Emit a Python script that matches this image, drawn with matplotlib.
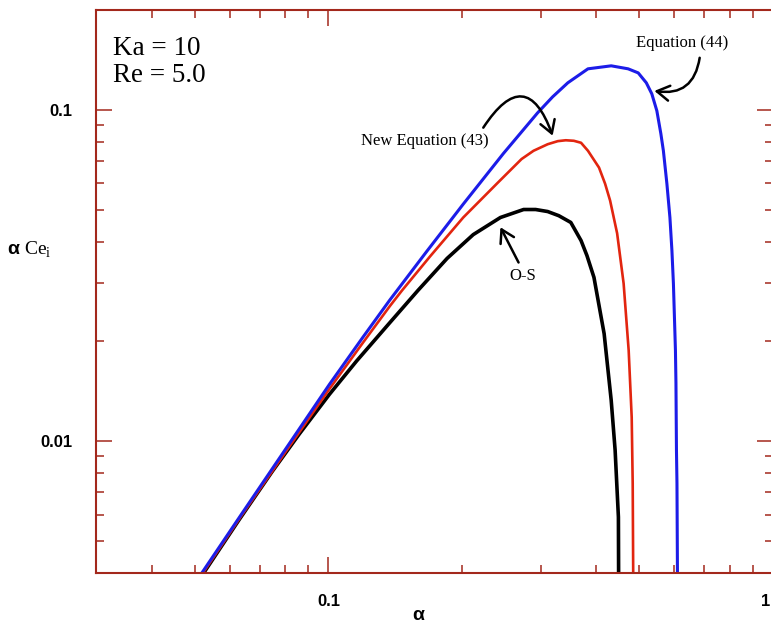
import matplotlib
matplotlib.use("Agg")
import matplotlib.pyplot as plt
import matplotlib.transforms as mtransforms

# Ka = 10, Re = 5.0 : alpha*Ce_i against alpha
alpha_os = [0.0524, 0.0629, 0.0747, 0.0860, 0.1005, 0.1157, 0.1374, 0.1590, 0.1849, 0.2117,
            0.2437, 0.2748, 0.2924, 0.3113, 0.3297, 0.3509, 0.370, 0.3815, 0.3956, 0.417,
            0.4325, 0.4414, 0.449, 0.4495]
ce_os = [0.0040, 0.00578, 0.00809, 0.01051, 0.01384, 0.01745, 0.02277, 0.0285, 0.0356, 0.0420,
         0.0473, 0.0500, 0.0500, 0.0493, 0.0479, 0.0457, 0.0403, 0.0363, 0.0312, 0.0211,
         0.0133, 0.0094, 0.0059, 0.0039]

alpha_eq43 = [0.0522, 0.0639, 0.0817, 0.1005, 0.1195, 0.1374, 0.1463, 0.1693, 0.201, 0.240,
              0.2719, 0.2893, 0.3113, 0.3280, 0.3419, 0.3565, 0.370, 0.3835, 0.4061, 0.4191,
              0.4301, 0.4460, 0.4613, 0.4735, 0.4810, 0.4835, 0.4848]
ce_eq43 = [0.0040, 0.00599, 0.00964, 0.01437, 0.0198, 0.02554, 0.02846, 0.0361, 0.0473, 0.0601,
           0.0710, 0.0752, 0.0787, 0.0804, 0.0809, 0.0806, 0.0795, 0.0752, 0.0669, 0.0598,
           0.0532, 0.0424, 0.0299, 0.0188, 0.0118, 0.00746, 0.0039]

alpha_eq44 = [0.0519, 0.0639, 0.0817, 0.1005, 0.1195, 0.1374, 0.1667, 0.201, 0.2475, 0.2955,
              0.3194, 0.3455, 0.3835, 0.4326, 0.4722, 0.4975, 0.5188, 0.5338, 0.5479, 0.5594,
              0.5668, 0.5772, 0.5863, 0.5924, 0.5970, 0.6033, 0.6049, 0.6065, 0.6081, 0.6097]
ce_eq44 = [0.0040, 0.00605, 0.00984, 0.01483, 0.02057, 0.02665, 0.0375, 0.0519, 0.0738, 0.0979,
           0.1094, 0.1206, 0.1329, 0.1357, 0.1329, 0.1292, 0.1206, 0.1117, 0.0993, 0.0847,
           0.0752, 0.0598, 0.0473, 0.0376, 0.0299, 0.0188, 0.0150, 0.0094, 0.00746, 0.0039]

frame_col = '#a3281c'

fig = plt.figure(figsize=(7.71, 6.25), dpi=100)
ax = fig.add_axes([0.1245, 0.0832, 0.8781, 0.9008])

line_kw = dict(solid_capstyle='butt', solid_joinstyle='round')
ax.plot(alpha_os, ce_os, color='black', lw=2.6, **line_kw)
ax.plot(alpha_eq43, ce_eq43, color='#e2250f', lw=1.9, **line_kw)
ax.plot(alpha_eq44, ce_eq44, color='#1c1ce8', lw=2.2, **line_kw)

ax.set_xscale('log')
ax.set_yscale('log')
ax.set_xlim(0.03, 1.0)
ax.set_ylim(0.004, 0.2)

for sp in ax.spines.values():
    sp.set_color(frame_col)
    sp.set_linewidth(1.5)

ax.tick_params(which='both', direction='in', top=True, right=True, color=frame_col,
               labelsize=12, pad=15)
ax.tick_params(which='major', length=11.5, width=1.1)
ax.tick_params(which='minor', length=6, width=1.1)
ax.set_xticks([0.1, 1.0])
ax.set_xticklabels(['0.1', '1'])
ax.set_yticks([0.01, 0.1])
ax.set_yticklabels(['0.01', '0.1'])
for lab in ax.get_xticklabels() + ax.get_yticklabels():
    lab.set_fontfamily('Liberation Sans')
    lab.set_fontweight('bold')
ax.tick_params(axis='y', pad=17)

# the "1" label sits right at the figure edge, nudge it inward
shift = mtransforms.ScaledTranslation(-0.07, 0, fig.dpi_scale_trans)
last = ax.get_xticklabels()[-1]
last.set_transform(last.get_transform() + shift)

# axis titles
fig.text(0.542, 0.0144, 'α', fontsize=14, fontfamily='Liberation Sans', fontweight='bold',
         ha='center', va='center')
fig.text(0.009, 0.60, 'α', fontsize=14, fontfamily='Liberation Sans', fontweight='bold',
         ha='left', va='center')
fig.text(0.031, 0.60, r'Ce$_{\mathregular{i}}$', fontsize=14, fontfamily='Liberation Serif',
         ha='left', va='center')

serif = dict(fontfamily='Liberation Serif', color='black')
fig.text(0.1466, 0.912, 'Ka = 10', fontsize=19.5, va='baseline', **serif)
fig.text(0.1466, 0.8688, 'Re = 5.0', fontsize=19.5, va='baseline', **serif)

# curve annotations
ax.text(0.626, 0.159, 'Equation (44)', fontsize=12, ha='center', va='center', **serif)
ax.text(0.165, 0.0807, 'New Equation (43)', fontsize=12, ha='center', va='center', **serif)
ax.text(0.2734, 0.0316, 'O-S', fontsize=12, ha='center', va='center', **serif)

arrow = dict(arrowstyle='->,head_length=0.5,head_width=0.3', color='black', lw=1.8,
             shrinkA=0, shrinkB=0, mutation_scale=18)
ax.annotate('', xy=(0.541, 0.114), xytext=(0.684, 0.1435),
            arrowprops=dict(connectionstyle='arc3,rad=-0.5', **arrow))
ax.annotate('', xy=(0.3194, 0.0835), xytext=(0.223, 0.0883),
            arrowprops=dict(connectionstyle='arc3,rad=-1.0', **arrow))
ax.annotate('', xy=(0.2437, 0.0442), xytext=(0.2677, 0.0346),
            arrowprops=dict(connectionstyle='arc3,rad=0', **arrow))

fig.savefig('out.png', dpi=100)
